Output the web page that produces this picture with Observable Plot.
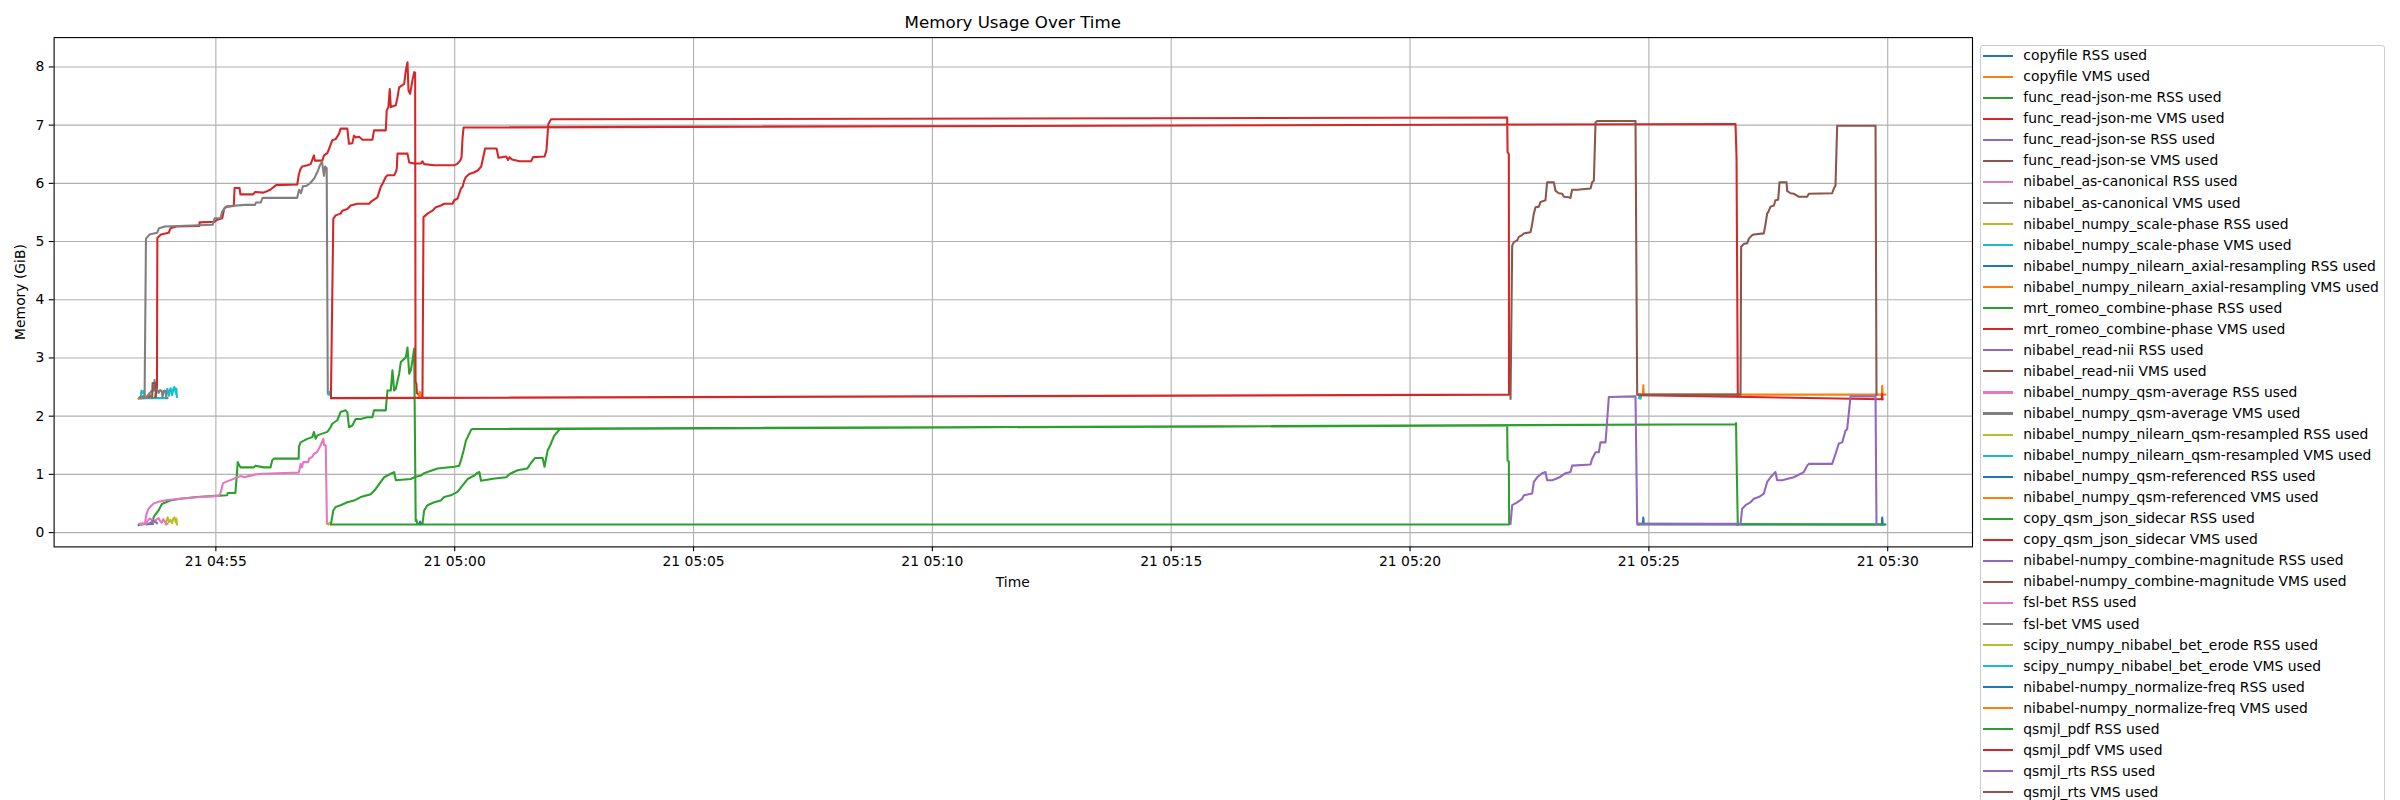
<!DOCTYPE html>
<html><head><meta charset="utf-8">
<script src="https://cdn.jsdelivr.net/npm/d3@7"></script>
<script src="https://cdn.jsdelivr.net/npm/@observablehq/plot@0.6"></script>
<style>
html,body{margin:0;padding:0;background:#fff;}
#fig{position:relative;width:2400px;height:800px;overflow:hidden;font-family:"DejaVu Sans",sans-serif;color:#000;background:#fff;}
#fig svg{position:absolute;left:0;top:0;}
.title{position:absolute;top:14.7px;left:1012.8px;transform:translateX(-50%);font-size:16.67px;line-height:1;white-space:nowrap;}
.xlabel{position:absolute;top:576.2px;left:1012.8px;transform:translateX(-50%);font-size:13.89px;line-height:1;white-space:nowrap;}
.ylabel{position:absolute;left:21.4px;top:291.8px;transform:translate(-50%,-50%) rotate(-90deg);font-size:13.89px;line-height:1;white-space:nowrap;}
.legend{position:absolute;left:1979.5px;top:44.7px;width:405.8px;height:764px;border:1px solid #cccccc;border-radius:3px;background:rgba(255,255,255,0.8);box-sizing:border-box;}
.lh{position:absolute;left:2.8px;width:29.4px;height:2.08px;}
.lt{position:absolute;left:42.8px;height:21.05px;line-height:21.05px;font-size:13.89px;white-space:nowrap;}
</style>
</head><body>
<div id="fig"></div>
<script>
// time is seconds relative to 21 04:55:00, memory in GiB
const tasks = ["copyfile","func_read-json-me","func_read-json-se","nibabel_as-canonical","nibabel_numpy_scale-phase","nibabel_numpy_nilearn_axial-resampling","mrt_romeo_combine-phase","nibabel_read-nii","nibabel_numpy_qsm-average","nibabel_numpy_nilearn_qsm-resampled","nibabel_numpy_qsm-referenced","copy_qsm_json_sidecar","nibabel-numpy_combine-magnitude","fsl-bet","scipy_numpy_nibabel_bet_erode","nibabel-numpy_normalize-freq","qsmjl_pdf","qsmjl_rts"];
const xTickLabels = ["04:55","05:00","05:05","05:10","05:15","05:20","05:25","05:30"];
const yTickValues = [0,1,2,3,4,5,6,7,8];

const copyfile_RSS = [[-97,0.13],[-96,0.14]];
const copyfile_VMS = [[-97,2.30],[-96,2.31]];
const readJsonMe_RSS = [[-95,0.14],[-94,0.14]];
const readJsonMe_VMS = [[-95,2.31],[-94,2.31]];
const readJsonSe_RSS = [[-93,0.14],[-92,0.14]];
const readJsonSe_VMS = [[-93,2.31],[-92,2.32]];
const asCanonical_RSS = [[-91,0.15],[-89.5,0.15]];
const asCanonical_VMS = [[-91,2.31],[-89.5,2.32]];
const scalePhase_RSS = [[-63,0.14],[-62,0.21],[-60.5,0.26],[-59,0.18],[-57,0.22],[-55,0.16],[-53.5,0.24],[-52,0.26],[-50.5,0.18],[-49.5,0.24],[-49,0.14]];
const scalePhase_VMS = [[-94.5,2.31],[-93.5,2.44],[-92,2.40],[-90.5,2.43],[-89,2.31],[-63,2.31],[-62,2.42],[-61,2.47],[-60,2.40],[-59,2.35],[-58,2.44],[-57,2.48],[-56,2.45],[-55,2.36],[-54,2.42],[-53,2.49],[-52,2.50],[-51,2.44],[-50,2.38],[-49.5,2.47],[-49,2.33]];
const axialResampling_RSS = [[-87,0.14],[-81,0.15]];
const axialResampling_VMS = [[-87,2.33],[-85,2.37],[-82,2.36],[-81,2.33]];
const romeo_RSS = [[-79,0.15],[-78.3,0.26],[-77,0.29],[-72,0.38],[-67.8,0.49],[-57.3,0.55],[-44.7,0.58],[-23.7,0.61],[-0.6,0.63],[14.1,0.64],[14.9,0.68],[24.5,0.68],[27.5,1.21],[30.8,1.12],[47.6,1.12],[49.7,1.15],[60.2,1.12],[68.6,1.12],[70.7,1.24],[72.8,1.27],[104,1.27],[104.3,1.47],[106.4,1.55],[110.6,1.58],[114.8,1.61],[121.1,1.64],[123.2,1.73],[125.3,1.61],[127.4,1.67],[133.7,1.70],[140,1.73],[144.1,1.81],[146.2,1.87],[152.5,1.93],[156.7,2.07],[163,2.10],[165.1,2.07],[167.2,1.81],[171.4,1.84],[175.6,1.95],[181.9,1.95],[190.3,1.98],[196.6,1.98],[198.7,2.10],[213.4,2.10],[215.5,2.44],[219.7,2.44],[221.8,2.79],[223.9,2.44],[226,2.47],[230.2,2.73],[232.3,2.93],[238.6,3.01],[240.7,3.18],[242.8,2.73],[244.9,2.79],[246.9,2.96],[249.1,3.16],[251,0.2],[252,0.22],[253,0.15],[255,0.15]];
const romeo_VMS = [[-76,2.33],[-74,2.5],[-73.5,5.06],[-69,5.12],[-59.3,5.15],[-56.9,5.23],[-49.7,5.26],[-20.8,5.27],[-20.5,5.33],[-1.5,5.34],[1,5.37],[8,5.40],[10.5,5.57],[14,5.60],[22.5,5.61],[23.5,5.92],[29.8,5.92],[30.8,5.81],[46.7,5.81],[49.1,5.85],[60,5.84],[68.3,5.89],[75.6,5.97],[102.2,5.98],[104.3,6.16],[106.4,6.25],[108.5,6.29],[114.8,6.31],[119,6.33],[123.2,6.48],[124.4,6.39],[129.5,6.39],[133.7,6.39],[135.8,6.48],[140,6.52],[142,6.59],[146.2,6.74],[150.4,6.76],[154.6,6.85],[156.7,6.94],[165.1,6.94],[167.2,6.68],[171.4,6.69],[173.5,6.82],[175.6,6.79],[180,6.80],[184,6.75],[196.6,6.75],[198.7,6.91],[213.4,6.91],[214.6,7.25],[216.7,7.31],[218.4,7.62],[219.7,7.31],[226,7.34],[228.1,7.48],[230.2,7.65],[236.5,7.71],[238.6,7.94],[240.7,8.08],[241.9,7.6],[244,7.54],[246.9,7.77],[249.1,7.91],[250.3,7.90],[250.8,2.6],[252,2.55],[252.5,2.40],[254,2.38],[255,2.36]];
const readNii_RSS = [[-85,0.15],[-83,0.16]];
const readNii_VMS = [[-85,2.32],[-83,2.34]];
const qsmAverage_RSS = [[-96,0.15],[-88,0.15],[-86,0.20],[-83,0.24],[-80,0.22],[-78,0.17],[-75,0.22],[-72,0.25],[-70,0.20],[-68,0.17],[-66,0.23],[-64,0.18],[-62,0.15],[-61,0.15]];
const qsmAverage_VMS = [[-96,2.31],[-89,2.31],[-86,2.33],[-83,2.40],[-80,2.44],[-78,2.44],[-77,2.62],[-76.5,2.46],[-74,2.46],[-72,2.40],[-70,2.45],[-68,2.43],[-67,2.33],[-65,2.44],[-63,2.43],[-62,2.31],[-61,2.31]];
const qsmResampled_RSS = [[1787.5,0.14],[1790,0.15]];
const qsmResampled_VMS = [[1787.5,2.31],[1788.5,2.34],[1789.5,2.30],[1790,2.33]];
const qsmReferenced_RSS = [[1786,0.14],[1792.5,0.14],[1793,0.26],[1793.6,0.14],[2092.6,0.14],[2093.1,0.26],[2093.7,0.14],[2097,0.14]];
const qsmReferenced_VMS = [[1786,2.37],[1792.5,2.37],[1793,2.53],[1793.6,2.37],[2092.6,2.37],[2093.1,2.52],[2093.7,2.37],[2097,2.37]];
const copyQsm_RSS = [[1788,0.15],[2095,0.14]];
const copyQsm_VMS = [[1788,2.36],[2092.5,2.29],[2093,2.38],[2093.6,2.29]];
const combineMag_RSS = [[-82,0.16],[-80,0.20],[-76,0.19],[-74,0.16]];
const combineMag_VMS = [[-80,2.32],[-79.5,2.57],[-76,2.57],[-75.5,2.33]];
const fslBet_RSS = [[-95,0.15],[-89,0.16],[-87.5,0.30],[-85,0.40],[-82,0.45],[-78,0.50],[-72,0.53],[-61,0.56],[-45,0.58],[-20,0.61],[3.6,0.63],[5.7,0.67],[9,0.85],[14,0.88],[20,0.91],[26.6,0.95],[30.8,0.97],[36,0.95],[41,0.97],[50,1.00],[60,1.01],[77,1.02],[104,1.03],[105,1.08],[106.4,1.18],[108,1.12],[109.7,1.21],[116,1.21],[117,1.27],[121,1.30],[123,1.35],[127,1.38],[131.6,1.50],[134.9,1.61],[136,1.50],[138,1.50],[139.5,0.15],[142,0.15]];
const fslBet_VMS = [[-95.4,2.33],[-89.5,2.35],[-87.8,5.05],[-83.4,5.12],[-73.8,5.15],[-71.4,5.23],[-64.1,5.26],[-3.9,5.29],[-1.5,5.40],[5.7,5.40],[8.1,5.52],[12.9,5.60],[17.8,5.61],[37,5.63],[49.1,5.63],[50.5,5.67],[56.3,5.67],[58.7,5.75],[102.1,5.75],[104.5,5.89],[106.9,5.83],[109.3,5.95],[114.1,5.96],[119,6.01],[123.8,6.09],[128.6,6.23],[131,6.32],[133.4,6.37],[135.8,6.13],[137.2,6.29],[139.2,6.26],[140.6,2.39],[143,2.38]];
const betErode_RSS = [[141.5,0.14],[143,0.17],[144.5,0.14]];
const betErode_VMS = [[141.5,2.37],[142.5,2.42],[143.5,2.41],[144.5,2.35]];
const normalizeFreq_RSS = [[255.5,0.15],[256.5,0.19],[258,0.15]];
const normalizeFreq_VMS = [[255.5,2.35],[256,2.42],[257,2.40],[258,2.35]];
const pdf_RSS = [[259.5,0.15],[261.6,0.38],[265.8,0.47],[274.2,0.52],[282.6,0.55],[286.8,0.61],[295.2,0.64],[299.4,0.67],[303.6,0.70],[309.9,0.81],[316.2,0.92],[324.6,0.98],[328.8,1.03],[331,1.04],[333,0.89],[350.2,0.93],[364.7,0.95],[369.5,1.01],[379.1,1.07],[391.1,1.10],[396,1.20],[400.8,1.28],[410.4,1.28],[412.8,1.13],[416.7,1.41],[420,1.50],[424.9,1.66],[432.1,1.78],[1622,1.84],[1622.5,1.24],[1624.1,1.22],[1624.5,0.14],
  [144.5,0.14],[147.5,0.38],[150.4,0.44],[156.7,0.47],[165.1,0.52],[173.5,0.55],[181.9,0.61],[194.5,0.66],[200.8,0.75],[207.1,0.87],[211.3,0.95],[219.7,1.01],[223.9,1.04],[226,0.90],[244.9,0.92],[249.1,0.95],[257.4,0.98],[261.6,1.02],[265.8,1.04],[278.4,1.10],[299.4,1.13],[305.7,1.15],[307.8,1.24],[311.2,1.41],[314.1,1.58],[320.4,1.76],[322.5,1.78],[1908.8,1.86],[1909.5,1.88],[1910.1,1.30],[1911.7,0.13]];
const pdf_VMS = [[259.5,2.33],[260.8,5.42],[265.8,5.48],[272.1,5.53],[276.3,5.59],[282.6,5.62],[286.8,5.65],[297.3,5.65],[299.4,5.71],[303.6,5.74],[307.8,5.91],[309.9,5.94],[312,6.05],[314.1,6.11],[318.3,6.16],[324.6,6.19],[328.8,6.22],[333.3,6.29],[338.2,6.6],[352.6,6.6],[355,6.44],[364.7,6.46],[367,6.40],[369,6.45],[372,6.41],[381.5,6.38],[396,6.38],[398.4,6.45],[412.8,6.46],[415.2,6.56],[417.6,7.02],[421,7.10],[1622,7.13],[1622.5,6.54],[1624.1,6.50],[1624.3,2.37],
  [144.5,2.31],[147.5,5.39],[150.4,5.45],[156.7,5.48],[158.8,5.53],[165.1,5.56],[169.3,5.62],[177.7,5.65],[192.4,5.65],[194.5,5.68],[202.9,5.76],[205,5.85],[207.1,5.94],[209.2,5.99],[211.3,6.05],[213.4,6.11],[215.5,6.14],[223.9,6.14],[226,6.19],[227.2,6.25],[228.1,6.51],[240.7,6.51],[242.8,6.36],[249.1,6.34],[257.4,6.34],[259.5,6.38],[261.6,6.33],[274.2,6.31],[299.4,6.31],[303.6,6.34],[306.9,6.39],[308.6,6.45],[309.9,6.79],[311.2,6.96],[1908.8,7.02],[1910.1,6.45],[1911.7,2.35]];
const rts_RSS = [[1626.2,0.15],[1628.3,0.47],[1634.6,0.52],[1640.8,0.58],[1642.9,0.64],[1653.4,0.67],[1655.5,0.87],[1659.7,0.95],[1665.9,1.02],[1670.1,1.04],[1672.2,0.90],[1678.5,0.90],[1682.7,0.92],[1689,0.96],[1695.3,1.02],[1701.5,1.04],[1703.6,1.15],[1726.7,1.17],[1728.8,1.27],[1733,1.38],[1737.1,1.38],[1739.2,1.55],[1745.5,1.55],[1746.8,1.78],[1749.7,2.33],[1783.2,2.34],[1785.3,0.15],
  [1915.1,0.15],[1917.2,0.41],[1921.4,0.47],[1927.6,0.52],[1931.8,0.58],[1938.1,0.61],[1944.4,0.67],[1948.6,0.87],[1952.8,0.95],[1959,1.04],[1961.1,0.90],[1967.4,0.90],[1982.1,0.95],[1994.6,1.04],[1998.8,1.15],[2000.9,1.18],[2030.2,1.18],[2034.4,1.35],[2038.6,1.53],[2042.8,1.55],[2047,1.75],[2049.1,1.78],[2053.3,2.34],[2084.7,2.34],[2085.9,0.15]];
const rts_VMS = [[1626.2,2.30],[1628.3,4.93],[1630.4,4.99],[1634.6,5.02],[1636.7,5.08],[1640.8,5.11],[1642.9,5.14],[1651.3,5.16],[1653.4,5.30],[1655.5,5.48],[1657.6,5.59],[1661.8,5.60],[1663.9,5.68],[1670.1,5.71],[1672.2,6.02],[1680.6,6.02],[1682.7,5.87],[1686.9,5.83],[1691.1,5.82],[1693.2,5.77],[1699.5,5.76],[1701.5,5.75],[1703.6,5.89],[1709.9,5.89],[1726.7,5.91],[1728.8,6.02],[1730.9,6.05],[1733,7.05],[1735.1,7.07],[1783.2,7.07],[1785.3,2.37],
  [1915.1,2.37],[1915.9,4.91],[1919.3,4.96],[1923.5,4.97],[1925.6,5.05],[1929.7,5.11],[1931.8,5.12],[1944.4,5.14],[1946.5,5.30],[1948.6,5.48],[1950.7,5.53],[1952.8,5.60],[1957,5.62],[1959,5.71],[1962.4,5.72],[1964.1,6.02],[1972.9,6.02],[1973.7,5.87],[1977.9,5.83],[1982.1,5.82],[1988.4,5.77],[1998.8,5.77],[2000.9,5.82],[2030.2,5.83],[2032.3,5.91],[2034.4,5.96],[2036.5,6.99],[2084.7,6.99],[2085.9,2.37]];

const seriesData = [
  copyfile_RSS, copyfile_VMS, readJsonMe_RSS, readJsonMe_VMS, readJsonSe_RSS, readJsonSe_VMS,
  asCanonical_RSS, asCanonical_VMS, scalePhase_RSS, scalePhase_VMS, axialResampling_RSS, axialResampling_VMS,
  romeo_RSS, romeo_VMS, readNii_RSS, readNii_VMS, qsmAverage_RSS, qsmAverage_VMS,
  qsmResampled_RSS, qsmResampled_VMS, qsmReferenced_RSS, qsmReferenced_VMS, copyQsm_RSS, copyQsm_VMS,
  combineMag_RSS, combineMag_VMS, fslBet_RSS, fslBet_VMS, betErode_RSS, betErode_VMS,
  normalizeFreq_RSS, normalizeFreq_VMS, pdf_RSS, pdf_VMS, rts_RSS, rts_VMS
];
const labels = tasks.flatMap(t => [t + " RSS used", t + " VMS used"]);

(function () {
  const tab10 = ["#1f77b4","#ff7f0e","#2ca02c","#d62728","#9467bd","#8c564b","#e377c2","#7f7f7f","#bcbd22","#17becf"];
  const base = Date.UTC(2024, 4, 21, 4, 55, 0);
  const toDate = s => new Date(base + s * 1000);
  const xTicks = xTickLabels.map(t => { const [h, m] = t.split(":").map(Number); return new Date(Date.UTC(2024, 4, 21, h, m, 0)); });

  const W = 2400, H = 800;
  const mLeft = 53.6, mRightEdge = 1972, mTop = 37.1, mBottomEdge = 546.4;

  const lineMarks = seriesData.map((data, i) => Plot.line(data, {
    x: d => toDate(d[0]), y: d => d[1],
    stroke: tab10[i % 10], strokeWidth: 2.08, strokeLinejoin: "round", strokeLinecap: "square"
  }));

  const chart = Plot.plot({
    width: W, height: H,
    marginLeft: mLeft, marginRight: W - mRightEdge, marginTop: mTop, marginBottom: H - mBottomEdge,
    style: {fontFamily: "DejaVu Sans", fontSize: "13.89px", background: "transparent", color: "#000"},
    x: {type: "utc", domain: [toDate(-203.2), toDate(2206.5)]},
    y: {domain: [-0.246, 8.504]},
    marks: [
      Plot.gridX({ticks: xTicks, stroke: "#b0b0b0", strokeOpacity: 1, strokeWidth: 1.1}),
      Plot.gridY({ticks: yTickValues, stroke: "#b0b0b0", strokeOpacity: 1, strokeWidth: 1.1}),
      ...lineMarks,
      Plot.frame({stroke: "#000", strokeWidth: 1.1}),
      Plot.axisX({ticks: xTicks, tickFormat: d3.utcFormat("%d %H:%M"), tickSize: 4.86, tickPadding: 4.86, label: null, strokeWidth: 1.1}),
      Plot.axisY({ticks: yTickValues, tickSize: 4.86, tickPadding: 4.86, label: null, strokeWidth: 1.1})
    ]
  });

  const fig = document.getElementById("fig");
  fig.appendChild(chart);

  const addDiv = (cls, text) => { const d = document.createElement("div"); d.className = cls; d.textContent = text; fig.appendChild(d); return d; };
  addDiv("title", "Memory Usage Over Time");
  addDiv("xlabel", "Time");
  addDiv("ylabel", "Memory (GiB)");

  const legend = document.createElement("div");
  legend.className = "legend";
  labels.forEach((lab, i) => {
    const cy = 10 + i * 21.05;
    const h = document.createElement("div");
    h.className = "lh"; h.style.top = (cy - 1.04) + "px"; h.style.background = tab10[i % 10];
    const t = document.createElement("div");
    t.className = "lt"; t.style.top = (cy - 10.525) + "px"; t.textContent = lab;
    legend.appendChild(h); legend.appendChild(t);
  });
  fig.appendChild(legend);
})();
</script>
</body></html>
